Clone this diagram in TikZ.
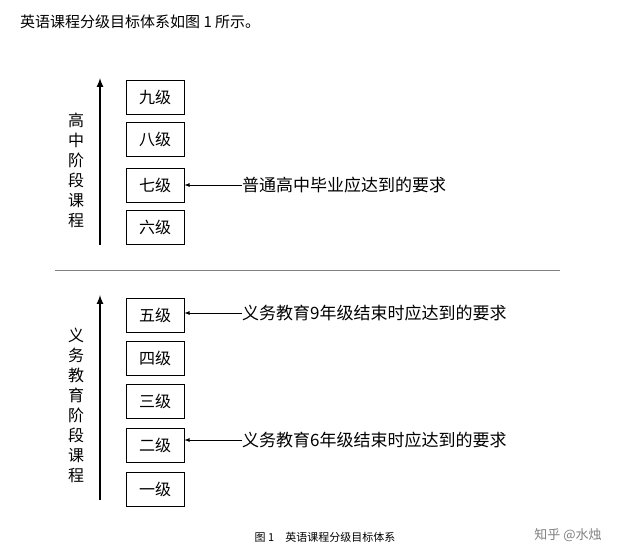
\documentclass[tikz,border=0pt]{standalone}
\usepackage{fontspec}
\setmainfont{Noto Sans CJK SC}
\usetikzlibrary{positioning}
\begin{document}
\begin{tikzpicture}[x=1pt, y=-1pt, font=\fontsize{15}{17}\selectfont]

\tikzstyle{lvl} = [rectangle, draw, thick, minimum height=34pt, minimum width=58pt, inner sep=0pt, font=\fontsize{16}{18}\selectfont]
\tikzstyle{req} = [anchor=west, inner sep=0pt, font=\fontsize{17}{19}\selectfont]
\tikzstyle{stage} = [align=center, font=\fontsize{16}{20}\selectfont]

\useasboundingbox (0,0) rectangle (620,559);

% Title
\node[anchor=west, inner sep=0pt] (title) at (20,22) {英语课程分级目标体系如图 1 所示。};

% Upper levels
\node[lvl] (l9) at (155,97) {九级};
\node[lvl] (l8) at (155,139) {八级};
\node[lvl] (l7) at (155,185) {七级};
\node[lvl] (l6) at (155,227) {六级};

% Lower levels
\node[lvl] (l5) at (155,315) {五级};
\node[lvl] (l4) at (155,358) {四级};
\node[lvl] (l3) at (155,401) {三级};
\node[lvl] (l2) at (155,445) {二级};
\node[lvl] (l1) at (155,489) {一级};

% Stage arrows
\coordinate (ua) at (100,245);
\coordinate (ub) at (100,78);
\coordinate (la) at (100,500);
\coordinate (lb) at (100,295);
\draw[-latex, line width=2pt] (ua) -- (ub);
\draw[-latex, line width=2pt] (la) -- (lb);

\node[stage] (high) at (76,170) {高\\中\\阶\\段\\课\\程};
\node[stage] (comp) at (76,405) {义\\务\\教\\育\\阶\\段\\课\\程};

% Separator
\coordinate (sl) at (55,270);
\coordinate (sr) at (560,270);
\draw[gray] (sl) -- (sr);

% Requirements
\node[req] (r7) at (242,185) {普通高中毕业应达到的要求};
\node[req] (r5) at (242,313) {义务教育9年级结束时应达到的要求};
\node[req] (r2) at (242,440) {义务教育6年级结束时应达到的要求};
\draw[-latex, thick] (r7.west) -- (l7.east |- r7.west);
\draw[-latex, thick] (r5.west) -- (l5.east |- r5.west);
\draw[-latex, thick] (r2.west) -- (l2.east |- r2.west);

% Caption
\node[font=\fontsize{11}{13}\selectfont] (cap) at (325,537) {图 1\quad 英语课程分级目标体系};
\node[font=\fontsize{13}{15}\selectfont, text=gray] (mark) at (568,535) {知乎 @水烛};

\end{tikzpicture}
\end{document}
